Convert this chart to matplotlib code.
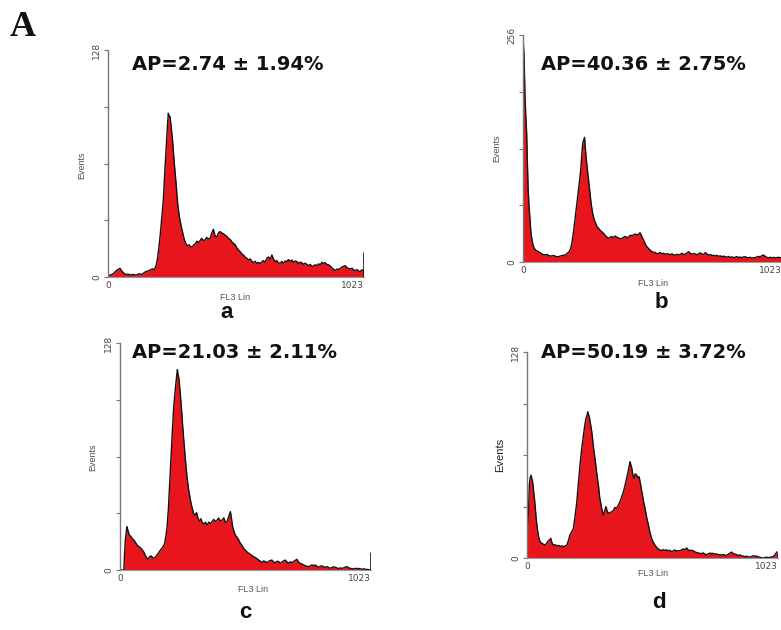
import matplotlib
matplotlib.use("Agg")
import matplotlib.pyplot as plt

# ---------------- data ----------------
a_x = [0, 8, 16, 24, 32, 40, 48, 56, 64, 72, 80, 88, 100, 112, 124, 136, 148, 158, 168, 178,
       186, 192, 197, 202, 208, 214, 221, 226, 232, 237, 241, 244, 248, 253, 259, 265, 272,
       278, 285, 292, 299, 305, 312, 318, 324, 330, 336, 342, 348, 355, 361, 368, 374, 381,
       388, 394, 401, 408, 414, 421, 428, 435, 441, 448, 454, 461, 468, 475, 481, 488, 495,
       501, 508, 515, 521, 528, 535, 541, 548, 555, 561, 568, 575, 581, 588, 595, 601, 608,
       615, 621, 628, 635, 641, 648, 655, 661, 668, 675, 681, 688, 695, 701, 708, 715, 721,
       728, 735, 741, 748, 755, 761, 768, 775, 781, 788, 795, 801, 808, 815, 821, 828, 835,
       841, 848, 855, 861, 868, 875, 881, 888, 895, 901, 908, 915, 921, 928, 935, 941, 948,
       955, 961, 968, 975, 981, 988, 995, 1001, 1008, 1015, 1021]
a_y = [1, 1, 1.5, 2.2, 3.5, 4.2, 4.9, 3.2, 2.0, 1.4, 1.6, 1.2, 1.4, 1.1, 1.8, 1.5, 2.8, 3.3,
       3.9, 4.6, 4.2, 6.5, 9.6, 15, 22.7, 32, 43, 57, 71.6, 84, 92.3, 91, 90.4, 84, 75.4, 64,
       52.8, 42, 34, 29, 24.6, 21, 18.6, 17.5, 18.2, 17.1, 16.8, 18.0, 18.6, 20.2, 19.4, 20.5,
       21.8, 20.6, 20.9, 22.3, 21.5, 21.8, 24.5, 26.9, 23.0, 22.5, 24.8, 25.6, 24.9, 24.4,
       23.6, 22.9, 21.8, 21.2, 19.8, 19, 18.2, 16.4, 15.2, 14.3, 13.0, 12.4, 11.2, 10.5, 9.6,
       10.2, 8.8, 8.1, 8.9, 7.6, 8.3, 7.5, 8.6, 9.2, 8.4, 10.5, 11.3, 10.1, 12.4, 10.2, 8.7,
       9.3, 7.8, 7.9, 8.8, 7.6, 9.1, 8.7, 9.8, 8.9, 9.6, 8.2, 9.0, 8.7, 7.5, 8.4, 7.9, 7.2,
       7.8, 7, 6.4, 7.1, 6.0, 6.2, 6.9, 6.3, 7.4, 7, 8.3, 7.6, 8.1, 7.0, 6.9, 6.2, 5.1, 4.4,
       3.7, 4.5, 4.2, 4.9, 5.6, 6.0, 6.4, 5.2, 4.9, 4.5, 5.0, 3.9, 3.7, 4.2, 3.3, 3.2, 4.0, 3.7]
a_last = 14

b_x = [0, 4, 8, 11, 14.5, 17, 20.5, 24, 27, 30, 33.5, 38, 44, 52, 60, 68, 76, 87, 95, 104,
       113, 122, 131, 140, 148, 157, 166, 174, 182, 188, 193, 199, 205, 212, 219, 224, 228,
       232, 236, 240, 243, 246, 249, 254, 259, 264, 269, 275, 282, 287, 292, 298, 304, 311,
       318, 324, 330, 337, 344, 350, 357, 364, 370, 377, 384, 390, 397, 404, 410, 417, 424,
       430, 437, 443, 450, 456, 462, 469, 476, 482, 489, 496, 502, 509, 516, 522, 529, 535,
       542, 548, 555, 561, 568, 574, 581, 588, 594, 601, 608, 614, 621, 628, 634, 641, 648,
       654, 661, 668, 674, 680, 687, 694, 700, 707, 714, 720, 727, 734, 740, 747, 753, 759,
       766, 772, 779, 785, 792, 798, 805, 812, 818, 825, 831, 838, 845, 851, 858, 864, 871,
       877, 884, 891, 897, 904, 910, 917, 924, 930, 937, 943, 950, 957, 963, 970, 977, 983,
       990, 996, 1003, 1009, 1016, 1023]
b_y = [254, 233, 186, 165, 145, 115, 81, 62, 51, 38, 28.6, 21, 15.4, 13, 11.7, 10.5, 8.8, 7.9,
       8.5, 6.9, 6.8, 7.4, 6.0, 6, 6.8, 7.4, 7.9, 9.5, 11.7, 15, 21, 33, 47, 64, 81, 93, 104,
       120, 134, 138, 140.6, 130, 118.8, 105, 92.5, 79, 66, 55, 47, 44, 39.8, 38.2, 36, 34.1,
       32.3, 30.2, 28.5, 26.7, 27.9, 28.8, 27.5, 29.3, 28.0, 27.2, 26.1, 26.7, 27.8, 28.9,
       27.4, 28.2, 30.2, 29.8, 30.6, 31.6, 30.5, 31.2, 33, 29.0, 24.8, 20.8, 17.3, 15.2, 13.4,
       11.7, 11.0, 10.6, 9.4, 9.8, 10.6, 9.2, 9.9, 8.6, 9.5, 9, 8.1, 9.3, 8.2, 7.6, 8.8, 7.9,
       8.6, 9.8, 8.4, 9.1, 10.2, 11.7, 9.8, 8.9, 9.6, 9, 8.2, 9.4, 10.3, 9.1, 8.6, 10.5, 9.0,
       7.8, 8.5, 7.2, 7.6, 6.8, 7.5, 6.4, 7.0, 5.9, 6.6, 6, 5.4, 6.3, 5.1, 5.8, 4.9, 5.3, 6.2,
       5.0, 5.6, 4.7, 5.8, 6, 5.1, 4.6, 5.4, 4.3, 5.0, 4.9, 5.7, 6.4, 5.5, 7.2, 7.9, 6.3, 5.2,
       4.6, 5.4, 4.5, 5.3, 4.4, 5.0, 5.3, 4.8, 5]
b_last = 30

c_x = [0, 16, 18, 21.7, 25, 28.5, 32, 38, 44, 50, 56, 62, 69, 76, 82, 89, 96.5, 102, 108, 114,
       121, 128, 135, 144, 150, 157, 165, 172, 178, 182, 187, 192, 197, 201, 205, 209, 214,
       219, 224, 229, 232, 234, 237, 240, 242, 246, 250, 255, 260, 266, 273, 280, 287, 293,
       300, 306, 312, 318, 324, 330, 334, 340, 348, 355, 362, 368, 375, 382, 389, 396, 402,
       409, 416, 423, 430, 436, 442, 446, 450, 455, 459, 465, 470, 477, 484, 490, 497, 504,
       511, 518, 525, 532, 538, 545, 552, 558, 565, 572, 578, 585, 592, 599, 605, 612, 619,
       626, 632, 639, 647, 653, 660, 667, 674, 681, 688, 694, 701, 708, 714, 721, 728, 735,
       742, 748, 755, 762, 769, 776, 782, 789, 796, 803, 810, 816, 823, 830, 837, 844, 851,
       858, 864, 871, 878, 885, 892, 898, 905, 912, 918, 925, 932, 939, 946, 953, 960, 966,
       973, 980, 987, 993, 1000, 1007, 1013, 1020]
c_y = [0, 0, 8, 16.9, 21, 24.4, 22.5, 19.7, 19.0, 17.6, 16.9, 15.8, 14.2, 13.2, 12.8, 11.5,
       10.3, 8.5, 7.0, 6, 7.6, 7.9, 6.7, 7.1, 8.4, 9.6, 11.3, 12.4, 13.8, 15, 19, 24.4, 34, 45,
       56, 67.7, 80, 92, 100, 107, 111, 113, 110, 108, 105, 99, 92, 82, 73, 63, 52.6, 45, 39.5,
       35.5, 32, 30.8, 32.4, 29.1, 27.6, 28.9, 27.2, 25.8, 26.9, 25.4, 27.0, 26.1, 27.2, 28.5,
       27.4, 28.2, 29.3, 27.6, 28.2, 29.4, 26.8, 27.2, 29.6, 31.5, 32.9, 28.5, 24.4, 21.6,
       19.7, 18.5, 16.9, 15.2, 13.9, 12.2, 11.1, 10.2, 9.4, 8.8, 8.1, 7.5, 6.9, 6.4, 5.6, 5.0,
       4.2, 5.1, 4.7, 4.1, 4.8, 5.3, 5.6, 4.5, 4.0, 4.9, 4.7, 3.8, 4.5, 5.1, 5.6, 4.4, 3.9,
       4.6, 4.1, 4.8, 5.4, 6, 4.3, 3.7, 3.4, 2.8, 2.4, 2.1, 1.9, 2.3, 2.9, 2.5, 2.8, 2.0, 1.6,
       2.1, 2.3, 1.8, 1.5, 1.9, 1.3, 1.0, 1.4, 1.8, 1.5, 1.1, 0.8, 1.2, 0.9, 1.3, 1.6, 1.9,
       1.2, 0.9, 0.8, 0.6, 1.0, 0.7, 0.9, 0.6, 0.4, 0.7, 0.4, 0.3, 0.2, 0]
c_last = 10

d_x = [0, 4, 7, 9.5, 12, 16, 19, 23, 28, 33, 37, 42, 47, 53, 60, 67, 73, 80, 86, 92, 97, 102,
       107, 114, 121, 128, 135, 142, 148, 155, 162, 168, 175, 182, 189, 196, 203, 210, 216,
       223, 230, 235, 240, 244, 248, 251, 254, 259, 264, 270, 277, 284, 291, 296, 302, 306,
       311, 316, 322, 326, 331, 338, 345, 352, 358, 365, 372, 379, 386, 393, 400, 406, 413,
       418, 420, 423, 427, 431, 436, 441, 447, 452, 457, 462, 468, 474, 481, 488, 495, 501,
       508, 515, 522, 529, 535, 542, 549, 555, 562, 569, 576, 582, 589, 596, 603, 609, 616,
       623, 630, 637, 644, 651, 657, 664, 671, 678, 685, 691, 698, 705, 712, 718, 725, 732,
       739, 746, 752, 759, 766, 773, 779, 786, 793, 800, 806, 813, 820, 827, 834, 840, 847,
       854, 861, 868, 874, 881, 888, 895, 901, 908, 915, 922, 929, 936, 942, 949, 956, 963,
       970, 976, 983, 990, 996, 1003, 1010, 1018]
d_y = [20, 21, 35, 45.3, 49, 51.5, 49.8, 47.4, 40, 32.9, 25, 18.4, 13.5, 10.1, 9.2, 8.5, 8.0,
       9.1, 10.5, 11.3, 12.2, 9.4, 7.9, 8.3, 7.5, 7.9, 7.2, 7.6, 7, 7.4, 7.9, 10.5, 14.3, 16.2,
       18.4, 26, 35, 47, 57.8, 68, 76.4, 82, 86.7, 88.5, 90.9, 89, 87.7, 83, 78.5, 70, 61.9,
       53, 45.3, 38, 32.9, 29.5, 26.7, 29.0, 31.9, 29.5, 27.7, 28.2, 28.7, 29.5, 31.4, 30.9,
       32.8, 35, 38.0, 41.2, 45.5, 49.5, 54.5, 58.5, 59.8, 58, 56, 52.0, 49.5, 52.3, 51.5,
       49.8, 50.5, 46.5, 41.2, 36.0, 30.9, 25.1, 20.5, 16.0, 12.2, 9.6, 7.9, 6.4, 5.6, 5,
       4.6, 5.2, 4.8, 5, 4.4, 4.8, 4.0, 4.4, 5.0, 4.2, 4.6, 4.4, 5.1, 5.6, 5.2, 6.2, 5.0, 4.6,
       4.9, 4.4, 3.8, 3.4, 3.1, 2.9, 2.6, 3.2, 2.4, 2.1, 2.5, 3.1, 2.7, 2.9, 2.3, 2.6, 2.0,
       2.1, 1.8, 2.2, 1.6, 1.7, 2.3, 3.0, 3.7, 2.8, 2.4, 2.1, 1.6, 1.9, 1.4, 1.2, 0.9, 1.1,
       0.8, 0.6, 0.9, 1.4, 1.1, 1.2, 0.7, 0.4, 0.2, 0, 0.3, 0.5, 0.2, 0.4, 0.6, 0.9, 1.8, 3.7]
d_last = 4

titles = ["AP=2.74 \u00b1 1.94%", "AP=40.36 \u00b1 2.75%", "AP=21.03 \u00b1 2.11%", "AP=50.19 \u00b1 3.72%"]
sub_labels = ["a", "b", "c", "d"]
y_max = [128, 256, 128, 128]
x_max = 1023

# ---------------- layout (pixel positions of the reference) ----------------
W, H = 781, 630
fig = plt.figure(figsize=(W / 100, H / 100), dpi=100)


def fx(px):
    return px / W


def fy(py):
    return 1 - py / H


panels = [
    dict(box=(108, 364, 50, 277), title=(228, 65), events=(82, 165), fl3=(235, 298), sub=(227, 312), ev_big=False),
    dict(box=(523, 782, 35, 262), title=(643, 64), events=(497, 148), fl3=(653, 283), sub=(661, 302), ev_big=False),
    dict(box=(120, 371, 343, 570), title=(235, 353), events=(93, 457), fl3=(253, 590), sub=(245, 613), ev_big=False),
    dict(box=(527, 778, 352, 558), title=(643, 353), events=(500, 455), fl3=(653, 573), sub=(659, 602), ev_big=True),
]

series = [(a_x, a_y, a_last), (b_x, b_y, b_last), (c_x, c_y, c_last), (d_x, d_y, d_last)]

red = "#e8161c"
txt_grey = "#4a4444"

for i, (p, (xs, ys, last)) in enumerate(zip(panels, series)):
    l, r, t, b = p["box"]
    ax = fig.add_axes([fx(l), fy(b), (r - l) / W, (b - t) / H])
    ax.fill_between(xs, ys, 0, color=red, linewidth=0)
    ax.plot(xs, ys, color="#111111", linewidth=1.0)
    ax.plot([x_max, x_max], [0, last], color="black", linewidth=1.8, solid_capstyle="butt")
    ax.set_xlim(0, x_max)
    ax.set_ylim(0, y_max[i])
    for s in ["top", "right"]:
        ax.spines[s].set_visible(False)
    ax.spines["left"].set_color("#777777")
    ax.spines["bottom"].set_color("#999999")
    ax.spines["left"].set_linewidth(1.0)
    ax.spines["bottom"].set_linewidth(0.8)
    ym = y_max[i]
    ax.set_yticks([0, ym / 4, ym / 2, 3 * ym / 4, ym])
    ax.set_yticklabels(["0", "", "", "", str(ym)], rotation=90, va="center",
                       fontsize=6.5, color=txt_grey)
    ax.tick_params(axis="y", direction="out", length=3, width=0.8, colors="#777777",
                   labelcolor=txt_grey, pad=2)
    ax.set_xticks([0, x_max])
    ax.set_xticklabels(["0", str(x_max)], fontsize=6.5, color=txt_grey)
    ax.get_xticklabels()[1].set_horizontalalignment("right")
    ax.tick_params(axis="x", length=0, pad=3, labelcolor=txt_grey)

    fig.text(fx(p["title"][0]), fy(p["title"][1]), titles[i], ha="center", va="center",
             fontsize=14, fontweight="bold", family="DejaVu Sans", color="#111111")
    if p["ev_big"]:
        fig.text(fx(p["events"][0]), fy(p["events"][1]), "Events", rotation=90, ha="center",
                 va="center", fontsize=8, color="#222222", family="Liberation Sans")
    else:
        fig.text(fx(p["events"][0]), fy(p["events"][1]), "Events", rotation=90, ha="center",
                 va="center", fontsize=6.5, color="#5a4848", family="Liberation Sans")
    fig.text(fx(p["fl3"][0]), fy(p["fl3"][1]), "FL3 Lin", ha="center", va="center",
             fontsize=6.5, color="#555555", family="Liberation Sans")
    fig.text(fx(p["sub"][0]), fy(p["sub"][1]), sub_labels[i], ha="center", va="center",
             fontsize=16, fontweight="bold", color="#111111", family="Liberation Sans")

fig.text(fx(23), fy(27), "A", ha="center", va="center", fontsize=26, fontweight="bold",
         family="Liberation Serif", color="#111111")

fig.savefig("out.png", dpi=100)
